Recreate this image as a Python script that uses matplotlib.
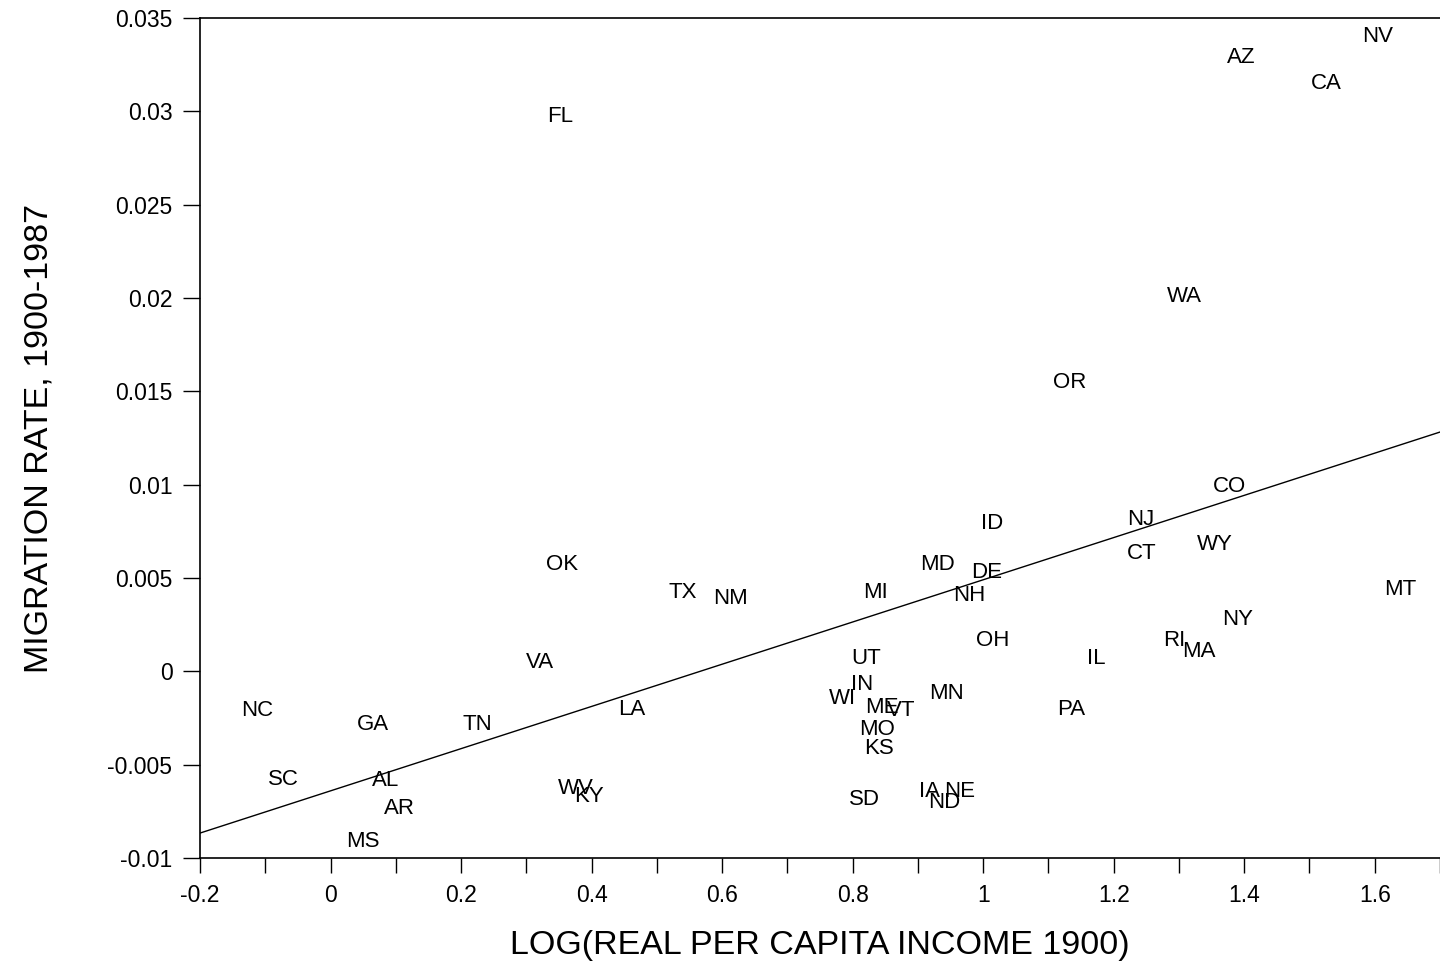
import matplotlib
matplotlib.use("Agg")
import matplotlib.pyplot as plt
from matplotlib.ticker import MultipleLocator

plt.rcParams['font.family'] = ['Liberation Sans', 'DejaVu Sans']

# state labels with (log income 1900, migration rate 1900-1987)
states = ["NV", "AZ", "CA", "FL", "WA", "OR", "CO", "NJ", "ID", "WY", "CT", "OK",
          "MD", "DE", "TX", "NM", "MI", "NH", "MT", "NY", "RI", "MA", "OH", "IL",
          "UT", "VA", "IN", "MN", "WI", "ME", "VT", "NC", "LA", "PA", "GA", "TN",
          "MO", "KS", "SC", "AL", "WV", "KY", "IA", "NE", "ND", "SD", "AR", "MS"]
log_income = [1.604, 1.395, 1.526, 0.352, 1.309, 1.133, 1.378, 1.242, 1.013, 1.355, 1.243, 0.355,
              0.930, 1.005, 0.540, 0.612, 0.835, 0.979, 1.639, 1.390, 1.292, 1.331, 1.014, 1.173,
              0.821, 0.320, 0.814, 0.944, 0.785, 0.844, 0.875, -0.113, 0.462, 1.135, 0.065, 0.225,
              0.838, 0.841, -0.073, 0.084, 0.375, 0.396, 0.918, 0.964, 0.941, 0.818, 0.106, 0.049]
migration = [0.0340, 0.0329, 0.0315, 0.0297, 0.0201, 0.0155, 0.0099, 0.00816, 0.0079, 0.0068, 0.00629, 0.00575,
             0.00575, 0.00532, 0.00425, 0.00388, 0.00420, 0.00409, 0.00436, 0.00280, 0.00168, 0.00109, 0.00168, 0.00071,
             0.00071, 0.00050, -0.00073, -0.00121, -0.00143, -0.00196, -0.00212, -0.00212, -0.00202, -0.00202, -0.00287, -0.00287,
             -0.00314, -0.00411, -0.00577, -0.00582, -0.00625, -0.00673, -0.00641, -0.00641, -0.00700, -0.00689, -0.00737, -0.00914]

# fitted line endpoints
fit_x = [-0.2, 1.7]
fit_y = [-0.00866, 0.01282]

fig = plt.figure(figsize=(14.4, 9.68), dpi=100)
ax = fig.add_axes([0.139, 0.1136, 0.861, 0.8678])

for s, x, y in zip(states, log_income, migration):
    ax.text(x, y, s, ha='center', va='center', fontsize=16, color='black')

ax.plot(fit_x, fit_y, color='black', lw=1.0)

ax.set_xlim(-0.2, 1.7)
ax.set_ylim(-0.01, 0.035)
ax.xaxis.set_major_locator(MultipleLocator(0.2))
ax.xaxis.set_minor_locator(MultipleLocator(0.1))
ax.yaxis.set_major_locator(MultipleLocator(0.005))
ax.tick_params(axis='both', which='both', direction='out', labelsize=16.5, width=1.0)
ax.tick_params(axis='y', which='major', length=12, pad=8)
ax.tick_params(axis='x', which='both', length=11, pad=8)
ax.xaxis.set_major_formatter(plt.FuncFormatter(lambda v, p: ('%g' % round(v, 3))))
ax.yaxis.set_major_formatter(plt.FuncFormatter(lambda v, p: ('%g' % round(v, 4))))

ax.spines['right'].set_visible(False)
for sp in ['left', 'top', 'bottom']:
    ax.spines[sp].set_linewidth(1.2)

ax.set_xlabel("LOG(REAL PER CAPITA INCOME 1900)", fontsize=24.5, labelpad=16)
ax.set_ylabel("MIGRATION RATE, 1900-1987", fontsize=24.5, labelpad=38)

fig.savefig("out.png", dpi=100)
